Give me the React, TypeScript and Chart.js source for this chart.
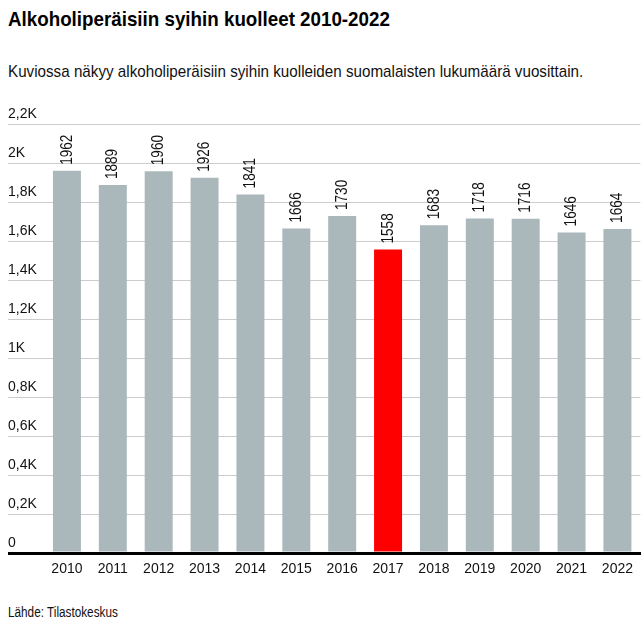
import React, { useEffect, useRef } from "react";
import { Chart, registerables } from "chart.js";

Chart.register(...registerables);

const years = ["2010", "2011", "2012", "2013", "2014", "2015", "2016", "2017", "2018", "2019", "2020", "2021", "2022"];
const deaths = [1962, 1889, 1960, 1926, 1841, 1666, 1730, 1558, 1683, 1718, 1716, 1646, 1664];
const highlightYear = "2017";
const yTickValues = [0, 200, 400, 600, 800, 1000, 1200, 1400, 1600, 1800, 2000, 2200];
const yTickLabels = ["0", "0,2K", "0,4K", "0,6K", "0,8K", "1K", "1,2K", "1,4K", "1,6K", "1,8K", "2K", "2,2K"];

const titleText = "Alkoholiperäisiin syihin kuolleet 2010-2022";
const subtitleText = "Kuviossa näkyy alkoholiperäisiin syihin kuolleiden suomalaisten lukumäärä vuosittain.";
const sourceText = "Lähde: Tilastokeskus";

const FONT = "'Liberation Sans', Arial, sans-serif";
const BAR_GRAY = "#abb8bb";
const BAR_RED = "#ff0000";
const GRID = "#cccccc";

const barLabelPlugin = {
  id: "barLabels",
  afterDatasetsDraw(chart: any) {
    const ctx = chart.ctx;
    const meta = chart.getDatasetMeta(0);
    const data = chart.data.datasets[0].data as number[];
    ctx.save();
    ctx.font = `17px ${FONT}`;
    ctx.fillStyle = "#111111";
    ctx.textAlign = "left";
    ctx.textBaseline = "middle";
    meta.data.forEach((bar: any, i: number) => {
      ctx.save();
      ctx.translate(bar.x, bar.y - 6);
      ctx.rotate(-Math.PI / 2);
      ctx.scale(0.8, 1);
      ctx.fillText(String(data[i]), 0, 0);
      ctx.restore();
    });
    ctx.restore();
  },
};

function App() {
  const canvasRef = useRef<HTMLCanvasElement | null>(null);

  useEffect(() => {
    document.body.style.margin = "0";
    const canvas = canvasRef.current;
    if (!canvas) return;
    const chart = new Chart(canvas, {
      type: "bar",
      data: {
        labels: years,
        datasets: [
          {
            data: deaths,
            backgroundColor: years.map((y) => (y === highlightYear ? BAR_RED : BAR_GRAY)),
            barPercentage: 0.61,
            categoryPercentage: 1,
          },
        ],
      },
      options: {
        animation: false,
        responsive: false,
        maintainAspectRatio: false,
        layout: { padding: { top: 24.5, left: 0, right: 0, bottom: 0 } },
        plugins: {
          legend: { display: false },
          tooltip: { enabled: false },
        },
        scales: {
          x: {
            z: 1,
            grid: { display: false, drawTicks: false },
            border: { display: true, color: "#000000", width: 3 },
            ticks: {
              color: "#111111",
              font: { family: FONT, size: 14 },
              padding: 8,
              maxRotation: 0,
              autoSkip: false,
            },
            afterFit(scale: any) {
              scale.height = 37;
            },
          },
          y: {
            min: 0,
            max: 2200,
            afterBuildTicks(scale: any) {
              scale.ticks = yTickValues.map((v) => ({ value: v }));
            },
            border: { display: false },
            grid: {
              color: (c: any) => (c.tick && c.tick.value === 0 ? "#000000" : GRID),
              lineWidth: (c: any) => (c.tick && c.tick.value === 0 ? 3 : 1),
              tickColor: (c: any) => (c.tick && c.tick.value === 0 ? "#000000" : GRID),
              tickWidth: (c: any) => (c.tick && c.tick.value === 0 ? 3 : 1),
              drawTicks: true,
              tickLength: 36,
            },
            ticks: {
              mirror: true,
              padding: -36,
              labelOffset: -10,
              color: "#111111",
              font: { family: FONT, size: 14 },
              callback: (value: any) => {
                const idx = yTickValues.indexOf(Number(value));
                return idx >= 0 ? yTickLabels[idx] : "";
              },
            },
            afterFit(scale: any) {
              scale.width = 44;
            },
          },
        },
      },
      plugins: [barLabelPlugin],
    });
    return () => chart.destroy();
  }, []);

  const textBase: React.CSSProperties = {
    position: "absolute",
    left: 8,
    fontFamily: FONT,
    whiteSpace: "nowrap",
    transformOrigin: "0 0",
  };

  return (
    <div style={{ position: "relative", width: 641, height: 624, background: "#ffffff", overflow: "hidden" }}>
      <div
        style={{
          ...textBase,
          top: 8,
          fontWeight: "bold",
          fontSize: 21,
          lineHeight: "21px",
          color: "#000000",
          transform: "scaleX(0.894)",
        }}
      >
        {titleText}
      </div>
      <div
        style={{
          ...textBase,
          top: 62.5,
          fontSize: 17,
          lineHeight: "17px",
          color: "#111111",
          transform: "scaleX(0.894)",
        }}
      >
        {subtitleText}
      </div>
      <canvas
        ref={canvasRef}
        width={641}
        height={490}
        style={{ position: "absolute", left: 0, top: 100, width: 641, height: 490 }}
      />
      <div
        style={{
          ...textBase,
          top: 605,
          fontSize: 14,
          lineHeight: "14px",
          color: "#111111",
          transform: "scaleX(0.84)",
        }}
      >
        {sourceText}
      </div>
    </div>
  );
}

export default App;
